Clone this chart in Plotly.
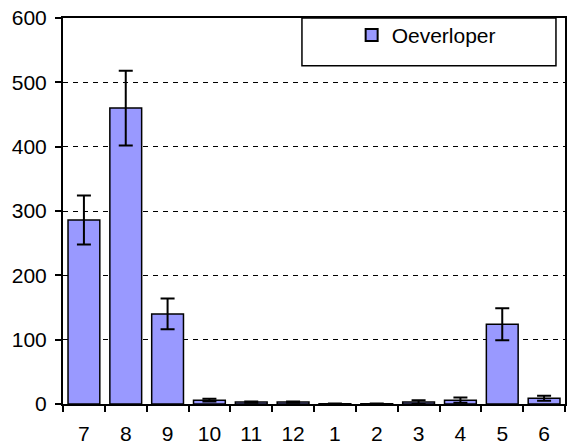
import plotly.graph_objects as go

months = ["7", "8", "9", "10", "11", "12", "1", "2", "3", "4", "5", "6"]
values = [286, 460, 140, 6, 3, 3, 0.5, 0.5, 3, 6, 124, 9]
errors = [38, 58, 24, 2, 1, 1, 0.3, 0.3, 3, 4, 25, 4]
series_name = "Oeverloper"
y_ticks = [0, 100, 200, 300, 400, 500, 600]

FONT = "Liberation Sans, Arial, sans-serif"

fig = go.Figure()
fig.add_trace(go.Bar(
    x=months, y=values, name=series_name,
    marker=dict(color="#9999FF", line=dict(color="black", width=1.5)),
    error_y=dict(type="data", array=errors, visible=True, color="black",
                 thickness=2, width=7),
    showlegend=True,
))

# legend frame (the legend itself is placed inside it)
fig.add_shape(type="rect", xref="paper", yref="paper",
              x0=0.476, x1=0.982, y0=0.876, y1=1.0,
              line=dict(color="black", width=1.5), fillcolor="white", layer="above")

fig.update_layout(
    width=569, height=448,
    margin=dict(l=63, r=2, t=18, b=44),
    paper_bgcolor="white", plot_bgcolor="white",
    font=dict(family=FONT, size=21, color="black"),
    bargap=0.24,
    legend=dict(x=0.575, y=0.955, xanchor="left", yanchor="middle",
                bgcolor="rgba(0,0,0,0)", borderwidth=0,
                font=dict(family=FONT, size=21, color="black"),
                itemsizing="constant"),
    xaxis=dict(type="category", showline=True, linecolor="black", linewidth=2,
               mirror=True, ticks="outside", tickson="boundaries", ticklen=6,
               tickcolor="black", tickwidth=1.5, showgrid=False,
               tickfont=dict(size=21), ticklabelstandoff=10),
    yaxis=dict(range=[0, 600], tickvals=y_ticks, showline=True, linecolor="black",
               linewidth=2, mirror=True, ticks="outside", ticklen=6,
               tickcolor="black", tickwidth=1.5, showgrid=True, gridcolor="black",
               gridwidth=1, griddash="5px,5px", zeroline=False,
               tickfont=dict(size=21), ticklabelstandoff=4),
)

fig.write_html("out.html", config={"displayModeBar": False},
               post_script="document.body.style.margin='0';document.body.style.padding='0';")
